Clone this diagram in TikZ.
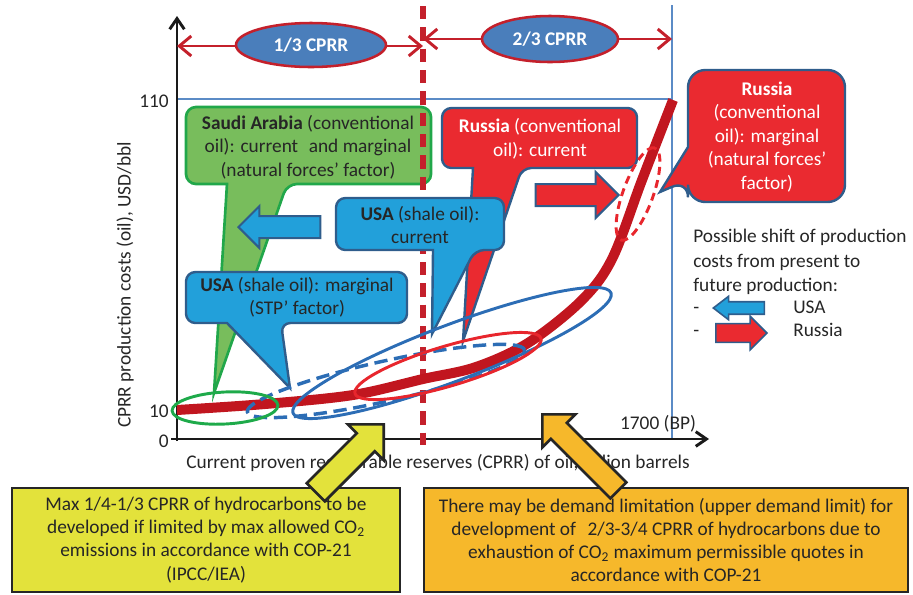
\documentclass[tikz,border=0pt]{standalone}
\usepackage{fontspec}
\setmainfont{Carlito}
\usetikzlibrary{arrows.meta,shapes.geometric,shapes.arrows}

\definecolor{ink}{HTML}{262626}
\definecolor{axisblack}{HTML}{1A1A1A}
\definecolor{thinblue}{HTML}{5B8BC6}
\definecolor{splitred}{HTML}{C4202B}
\definecolor{capfill}{HTML}{4A7EBB}
\definecolor{calloutblue}{HTML}{22A0DA}
\definecolor{edgeblue}{HTML}{2F5D8C}
\definecolor{russred}{HTML}{EA2A30}
\definecolor{saudigreen}{HTML}{78BD5C}
\definecolor{saudiedge}{HTML}{21A74A}
\definecolor{curvered}{HTML}{C1161F}
\definecolor{ellblue}{HTML}{2C6DB5}
\definecolor{ellred}{HTML}{E8262D}
\definecolor{ellgreen}{HTML}{1EAA4A}
\definecolor{boxyellow}{HTML}{E3E23B}
\definecolor{boxorange}{HTML}{F6B82B}

\tikzset{
  axisline/.style={draw=axisblack, line width=2.2pt, -{Straight Barb[length=8pt,width=11pt]}},
  guide/.style={draw=thinblue, line width=0.8pt},
  splitline/.style={draw=splitred, line width=3.8pt, dash pattern=on 10pt off 6pt},
  spanarrow/.style={draw=splitred, line width=2.2pt,
    {Straight Barb[length=9pt,width=15pt]}-{Straight Barb[length=9pt,width=15pt]}},
  spanlabel/.style={ellipse, fill=capfill, draw=splitred, line width=1.9pt, text=white,
    inner sep=0pt, font=\fontsize{14.5}{17}\selectfont\bfseries},
  label/.style={text=ink, inner sep=0pt},
  calltext/.style={text=ink, align=center, inner sep=0pt},
  saudicall/.style={fill=saudigreen, draw=saudiedge, line width=2pt},
  bluecall/.style={fill=calloutblue, draw=edgeblue, line width=1.8pt},
  redcall/.style={fill=russred, draw=edgeblue, line width=1.8pt},
  % block arrow: total length, half shaft width, head overhang beyond the shaft
  barrow/.style n args={3}{single arrow, inner xsep=0pt, inner ysep=#2,
    text height=0pt, text depth=0pt, text width=0pt, minimum height=#1,
    single arrow head extend=#3, single arrow tip angle=90},
  shiftblue/.style={fill=calloutblue, draw=edgeblue, line width=1.5pt},
  shiftred/.style={fill=russred, draw=edgeblue, line width=1.5pt},
  oilcurve/.style={draw=curvered, line width=7.5pt},
  ring/.style={ellipse, inner sep=0pt, line width=2.2pt},
  notebox/.style={draw=ink, line width=2.2pt, text=ink, align=center, inner sep=0pt,
    font=\fontsize{14.5}{17.4}\selectfont},
}

\begin{document}
\begin{tikzpicture}[x=0.75pt, y=-0.75pt, font=\fontsize{14.5}{17.6}\selectfont]
\useasboundingbox (0,0) rectangle (913,594);

% reference lines at 110 USD/bbl and at 1700 BP
\coordinate (g110a) at (177,99);
\coordinate (g110b) at (672,99);
\coordinate (g1700a) at (672,5);
\coordinate (g1700b) at (672,439);
\draw[guide] (g110a) -- (g110b);
\draw[guide] (g1700a) -- (g1700b);

% axes
\coordinate (origin) at (177,441);
\coordinate (ytop) at (177,16);
\coordinate (xstart) at (171,439);
\coordinate (xend) at (709,439);
\draw[axisline] (origin) -- (ytop);
\draw[axisline] (xstart) -- (xend);

% tick labels and axis titles
\node[label, anchor=east] (t110) at (169,101) {110};
\node[label, anchor=east] (t10) at (169,411) {10};
\node[label, anchor=east] (t0) at (169,441) {0};
\node[label] (tbp) at (658,424) {1700 (BP)};
\node[label, rotate=90] (ylab) at (125,285) {CPRR production costs (oil), USD/bbl};
\node[label] (xlab) at (438,463) {Current proven recoverable reserves (CPRR) of oil, billion barrels};

% Saudi Arabia callout
\path[saudicall, rounded corners=7.5pt] (186,107) -- (431,107) -- (431,184) -- (287,184)
  [sharp corners] -- (214,393) -- (227,184) [rounded corners=7.5pt] -- (186,184) -- cycle;
\node[calltext] (saudi) at (308,147)
  {\textbf{Saudi Arabia} (conventional\\oil): current\hspace{0.55em}and marginal\\(natural forces’ factor)};

% one third of the reserves
\coordinate (splittop) at (423,6);
\coordinate (splitbot) at (423,445);
\draw[splitline] (splittop) -- (splitbot);

% Russia callouts
\path[redcall, rounded corners=7pt] (442,108) -- (637,108) -- (637,168) -- (522,168)
  [sharp corners] -- (463,341) -- (473,168) [rounded corners=7pt] -- (442,168) -- cycle;
\node[calltext, text=white] (rucur) at (540,139) {\textbf{Russia} (conventional\\oil): current};

\path[redcall, rounded corners=13pt] (688,147) -- (688,70) -- (845,70) -- (845,202) -- (688,202)
  -- (688,180) [sharp corners] -- (660,192) -- (688,147) -- cycle;
\node[calltext, text=white] (rumarg) at (767,137)
  {\textbf{Russia}\\(conventional\\oil): marginal\\(natural forces’\\factor)};

% USA callouts
\path[bluecall, rounded corners=7pt] (336,198) -- (504,198) -- (504,250) -- (475,250)
  [sharp corners] -- (432,334) -- (433,250) [rounded corners=7pt] -- (336,250) -- cycle;
\node[calltext] (uscur) at (420,225) {\textbf{USA} (shale oil):\\current};

\path[bluecall, rounded corners=7pt] (186,272) -- (407,272) -- (407,323) -- (281,323)
  [sharp corners] -- (290,388) -- (227,323) [rounded corners=7pt] -- (186,323) -- cycle;
\node[calltext] (usmarg) at (297,297) {\textbf{USA} (shale oil): marginal\\(STP’ factor)};

% shift of production costs
\node[barrow={61.5pt}{7.5pt}{7.5pt}, shiftblue, rotate=180, anchor=tip] (usshift) at (237,227) {};
\node[barrow={62.25pt}{7.5pt}{9pt}, shiftred, anchor=tip] (rushift) at (620,195) {};

% cost curve
\draw[oilcurve] plot[smooth, tension=0.55] coordinates
  {(177,410) (265,404) (353,395) (423,379) (476,367) (528,343) (581,301) (612,259) (642,180) (673,100)};

% production ranges
\node[ring, draw=ellblue, minimum width=255pt, minimum height=42pt, rotate=20.7] (usrange) at (452,353) {};
\node[ring, draw=ellblue, line width=2.6pt, dash pattern=on 10pt off 5pt,
  minimum width=213pt, minimum height=30pt, rotate=12.6] (usnow) at (386,381) {};
\node[ring, draw=ellred, minimum width=145.5pt, minimum height=30pt, rotate=16.5] (runow) at (448,366) {};
\node[ring, draw=ellgreen, minimum width=79.5pt, minimum height=24pt, rotate=3] (sanow) at (225,408) {};
\node[ring, draw=ellred, dash pattern=on 6pt off 4pt,
  minimum width=73.5pt, minimum height=22.5pt, rotate=70] (rufut) at (638,194) {};

% thirds of the reserves
\coordinate (spanAl) at (177,46);
\coordinate (spanAr) at (423,46);
\coordinate (spanBl) at (423,39);
\coordinate (spanBr) at (672,39);
\draw[spanarrow] (spanAl) -- (spanAr);
\draw[spanarrow] (spanBl) -- (spanBr);
\node[spanlabel, minimum width=112.5pt, minimum height=33pt] (third) at (311,45) {1/3 CPRR};
\node[spanlabel, minimum width=102pt, minimum height=34.5pt] (twothirds) at (550,39) {2/3 CPRR};

% legend
\node[label, anchor=base west] (lg1) at (693,242) {Possible shift of production};
\node[label, anchor=base west] (lg2) at (693,267) {costs from present to};
\node[label, anchor=base west] (lg3) at (693,291) {future production:};
\node[label, anchor=base west] (lgd1) at (693,313) {-};
\node[label, anchor=base west] (lgd2) at (693,336) {-};
\node[label, anchor=base west] (lgusa) at (793,313) {USA};
\node[label, anchor=base west] (lgru) at (793,336) {Russia};
\node[barrow={38.25pt}{4.1pt}{4.1pt}, single arrow tip angle=75, shiftblue, line width=1.2pt, rotate=180, anchor=tip] (lgblue) at (712,308) {};
\node[barrow={38.25pt}{6.4pt}{5.6pt}, shiftred, line width=1.2pt, anchor=tip] (lgred) at (768,333) {};

% notes
\node[notebox, fill=boxyellow, minimum width=291pt, minimum height=78pt] (co2note) at (206,540)
  {Max 1/4-1/3 CPRR of hydrocarbons to be\\developed if limited by max allowed CO\textsubscript{2}\\emissions in accordance with COP-21\\(IPCC/IEA)};
\node[notebox, fill=boxorange, minimum width=363pt, minimum height=78pt] (demandnote) at (666,540)
  {There may be demand limitation (upper demand limit) for\\development of\hspace{0.6em}2/3-3/4 CPRR of hydrocarbons due to\\exhaustion of CO\textsubscript{2} maximum permissible quotes in\\accordance with COP-21};

\node[barrow={72pt}{8.6pt}{9.4pt}, fill=boxyellow, draw=ink, line width=2pt, rotate=45, anchor=tip] (co2arrow) at (385,423) {};
\node[barrow={80.6pt}{7.5pt}{9pt}, fill=boxorange, draw=ink, line width=2pt, rotate=135, anchor=tip] (demandarrow) at (541,413) {};
\end{tikzpicture}
\end{document}
